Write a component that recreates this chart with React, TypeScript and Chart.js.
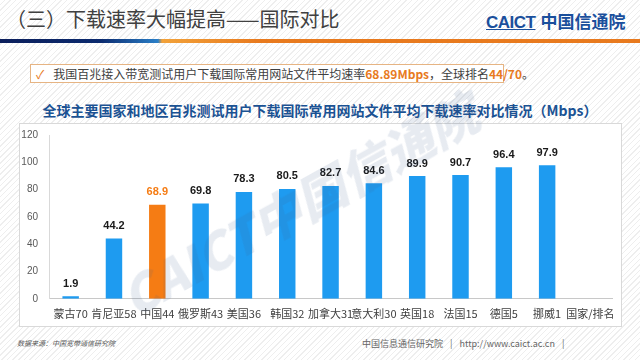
import React, { useEffect, useRef } from "react";
import { Chart, registerables } from "chart.js";

Chart.register(...registerables);

const categories = [
  "蒙古70", "肯尼亚58", "中国44", "俄罗斯43", "美国36", "韩国32",
  "加拿大31", "意大利30", "英国18", "法国15", "德国5", "挪威1", "国家/排名",
];
const speeds: (number | null)[] = [1.9, 44.2, 68.9, 69.8, 78.3, 80.5, 82.7, 84.6, 89.9, 90.7, 96.4, 97.9, null];
const highlightCategory = "中国44";
const yTicks = [0, 20, 40, 60, 80, 100, 120];

const BLUE = "#1e9bf0";
const ORANGE = "#f57c14";
const CJK = '"Noto Sans CJK SC", "Noto Sans", sans-serif';

const labelPlugin = {
  id: "valueLabels",
  afterDatasetsDraw(chart: any) {
    const ctx = chart.ctx;
    const meta = chart.getDatasetMeta(0);
    ctx.save();
    ctx.font = 'bold 11px "Liberation Sans", Arial, sans-serif';
    ctx.textAlign = "center";
    ctx.textBaseline = "bottom";
    meta.data.forEach((el: any, i: number) => {
      const v = speeds[i];
      if (v == null) return;
      ctx.fillStyle = categories[i] === highlightCategory ? ORANGE : "#1a1a1a";
      ctx.fillText(v.toFixed(1), el.x, el.y - 7);
    });
    ctx.restore();
  },
};

function BarChart() {
  const ref = useRef<HTMLCanvasElement>(null);
  useEffect(() => {
    if (!ref.current) return;
    const chart = new Chart(ref.current, {
      type: "bar",
      data: {
        labels: categories,
        datasets: [
          {
            data: speeds,
            backgroundColor: categories.map((c) => (c === highlightCategory ? ORANGE : BLUE)),
            barPercentage: 0.38,
            categoryPercentage: 1,
          },
        ],
      },
      options: {
        animation: false,
        responsive: false,
        maintainAspectRatio: false,
        layout: { padding: { top: 1, right: 10, left: 0, bottom: 0 } },
        plugins: { legend: { display: false }, tooltip: { enabled: false } },
        scales: {
          x: {
            grid: { display: false, drawTicks: false },
            border: { display: true, color: "#c8c8c8" },
            ticks: { color: "#404040", font: { family: CJK, size: 11 }, padding: 8, maxRotation: 0, autoSkip: false },
          },
          y: {
            min: 0,
            max: 120,
            afterBuildTicks: (s: any) => { s.ticks = yTicks.map((v) => ({ value: v })); },
            afterFit: (s: any) => { s.width = 29; },
            grid: { display: false, drawTicks: false },
            border: { display: true, color: "#d9d9d9" },
            ticks: { color: "#595959", font: { family: '"Liberation Sans", Arial, sans-serif', size: 10 }, padding: 11 },
          },
        },
      },
      plugins: [labelPlugin],
    });
    return () => chart.destroy();
  }, []);
  return <canvas ref={ref} width={603} height={210} style={{ position: "absolute", left: 0, top: -6, width: 603, height: 210 }} />;
}

export default function App() {
  return (
    <div
      style={{
        position: "fixed",
        left: 0,
        top: 0,
        width: 640,
        height: 360,
        overflow: "hidden",
        background: "repeating-linear-gradient(135deg, #ffffff 0px, #ffffff 3px, #eeeeee 3px, #eeeeee 4px)",
        fontFamily: CJK,
      }}
    >
      <div style={{ position: "absolute", left: 6, top: 4, fontSize: 20, color: "#404040", whiteSpace: "nowrap" }}>
        （三）下载速率大幅提高——国际对比
      </div>
      <div style={{ position: "absolute", left: 486, top: 8, fontSize: 17, fontWeight: 700, color: "#1a4f9c", whiteSpace: "nowrap" }}>
        <span style={{ fontFamily: '"Liberation Sans", Arial, sans-serif', textDecoration: "underline", letterSpacing: -0.5 }}>CAICT</span>
        <span style={{ marginLeft: 5 }}>中国信通院</span>
      </div>
      <div style={{ position: "absolute", left: 0, top: 39, width: 640, height: 4, background: "linear-gradient(90deg, #0c1f5c 0px, #0b2a6e 100px, #2a7fc8 158px, #f2a23a 162px, #e87a1e 260px, #e87a1e 640px)" }} />
      <div
        style={{
          position: "absolute",
          left: 30,
          top: 64,
          width: 474,
          height: 19,
          background: "#ffffff",
          border: "1px solid #e6b483",
          boxSizing: "border-box",
          fontSize: 12,
          color: "#404040",
          whiteSpace: "nowrap",
          lineHeight: "17px",
        }}
      >
        <span style={{ color: "#e87a1e", marginLeft: 5, marginRight: 9 }}>✓</span>
        我国百兆接入带宽测试用户下载国际常用网站文件平均速率
        <span style={{ color: "#e87a1e", fontWeight: 700 }}>68.89Mbps</span>，全球排名
        <span style={{ color: "#e87a1e", fontWeight: 700 }}>44/70</span>。
      </div>
      <div style={{ position: "absolute", left: 0, width: 640, top: 100, textAlign: "center", fontSize: 14, fontWeight: 700, color: "#1b5293", whiteSpace: "nowrap" }}>
        全球主要国家和地区百兆测试用户下载国际常用网站文件平均下载速率对比情况（Mbps）
      </div>
      <div style={{ position: "absolute", left: 19, top: 123, width: 603, height: 204, background: "#ffffff", border: "1px solid #d9d9d9", boxSizing: "border-box" }}>
        <BarChart />
      </div>
      <div
        style={{
          position: "absolute",
          left: 140,
          top: 262,
          fontSize: 50,
          lineHeight: "66px",
          fontWeight: 900,
          fontStyle: "italic",
          color: "rgba(60, 90, 140, 0.12)",
          whiteSpace: "nowrap",
          transform: "rotate(-29deg)",
          transformOrigin: "0 100%",
          pointerEvents: "none",
        }}
      >
        CAICT中国信通院
      </div>
      <div style={{ position: "absolute", left: 17, top: 338, fontSize: 7, color: "#555", fontStyle: "italic", whiteSpace: "nowrap" }}>
        数据来源：中国宽带通信研究院
      </div>
      <div style={{ position: "absolute", left: 362, top: 337, fontSize: 9, color: "#666", whiteSpace: "nowrap" }}>
        中国信息通信研究院 <span style={{ margin: "0 5px" }}>|</span> http://www.caict.ac.cn <span style={{ marginLeft: 5 }}>|</span>
      </div>
    </div>
  );
}
